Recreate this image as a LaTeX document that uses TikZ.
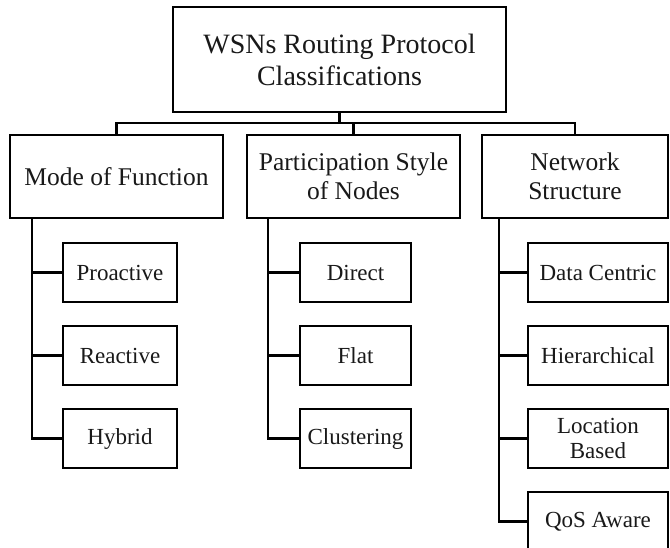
\documentclass[tikz,border=0pt]{standalone}
\usepackage{fontspec}
\setmainfont{Liberation Serif}
\begin{document}
\begin{tikzpicture}[x=1pt,y=-1pt,
  box/.style={draw=black,line width=2.6pt,rectangle,inner sep=0pt,align=center,text=black!90},
  topbox/.style={box,minimum width=333pt,minimum height=105pt,font=\fontsize{28}{32}\selectfont},
  midbox/.style={box,minimum height=83pt,font=\fontsize{25.5}{29}\selectfont},
  leafbox/.style={box,minimum height=59pt,font=\fontsize{23}{24.5}\selectfont},
  link/.style={draw=black,line width=2.6pt}]
\useasboundingbox (0,0) rectangle (670,547);
\clip (0,0) rectangle (670,547);
\fill[white] (0,0) rectangle (670,547);
% top
\node[topbox] (top) at (339.5,59.5) {WSNs Routing Protocol\\Classifications};
% level 1
\node[midbox,minimum width=213pt] (mode) at (116.5,176.5) {Mode of Function};
\node[midbox,minimum width=213pt] (part) at (353.5,176.5) {Participation Style\\of Nodes};
\node[midbox,minimum width=186pt] (net) at (575,176.5) {Network\\Structure};
% level 2, column 1
\node[leafbox,minimum width=114pt] (pro) at (120,272.5) {Proactive};
\node[leafbox,minimum width=114pt] (rea) at (120,355.5) {Reactive};
\node[leafbox,minimum width=114pt] (hyb) at (120,438.5) {Hybrid};
% column 2
\node[leafbox,minimum width=111pt] (dir) at (355.5,272.5) {Direct};
\node[leafbox,minimum width=111pt] (fla) at (355.5,355.5) {Flat};
\node[leafbox,minimum width=111pt] (clu) at (355.5,438.5) {Clustering};
% column 3
\node[leafbox,minimum width=140pt] (dat) at (598,272.5) {Data Centric};
\node[leafbox,minimum width=140pt] (hie) at (598,355.5) {Hierarchical};
\node[leafbox,minimum width=140pt] (loc) at (598,438.5) {Location\\Based};
\node[leafbox,minimum width=140pt] (qos) at (598,521.5) {QoS Aware};
% helper coordinates
\coordinate (bar) at (0,123);
\coordinate (sp1) at (32,0);
\coordinate (sp2) at (268,0);
\coordinate (sp3) at (499,0);
% top connectors
\draw[link] (top.south) -- (top.south |- bar);
\draw[link] (mode.north) |- (top.south |- bar);
\draw[link] (part.north) |- (top.south |- bar);
\draw[link] (net.north) |- (top.south |- bar);
% column 1
\draw[link] (mode.south -| sp1) |- (pro.west);
\draw[link] (mode.south -| sp1) |- (rea.west);
\draw[link] (mode.south -| sp1) |- (hyb.west);
% column 2
\draw[link] (part.south -| sp2) |- (dir.west);
\draw[link] (part.south -| sp2) |- (fla.west);
\draw[link] (part.south -| sp2) |- (clu.west);
% column 3
\draw[link] (net.south -| sp3) |- (dat.west);
\draw[link] (net.south -| sp3) |- (hie.west);
\draw[link] (net.south -| sp3) |- (loc.west);
\draw[link] (net.south -| sp3) |- (qos.west);
\end{tikzpicture}
\end{document}
